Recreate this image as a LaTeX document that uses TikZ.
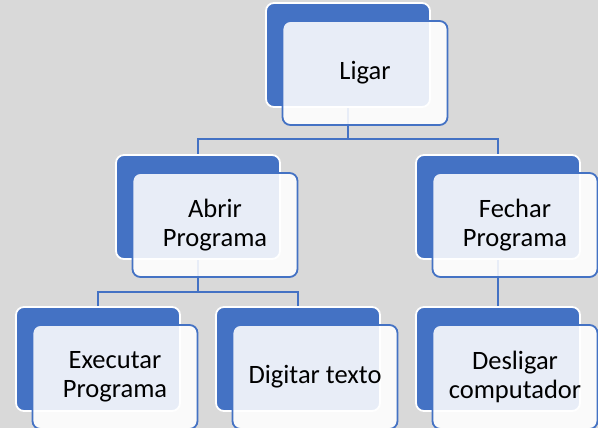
\documentclass[tikz,border=0pt]{standalone}
\usepackage{fontspec}
\setmainfont{Carlito}
\definecolor{acc}{HTML}{4472C4}
\definecolor{bgc}{HTML}{D9D9D9}
\pgfdeclarelayer{backdrop}
\pgfdeclarelayer{links}
\pgfsetlayers{backdrop,links,main}
\begin{document}
\begin{tikzpicture}[x=1pt,y=1pt,
 backbox/.style={draw=white, line width=1.8pt, fill=acc, rounded corners=8pt, minimum width=164pt, minimum height=104pt, inner sep=0pt},
 frontbox/.style={draw=acc, line width=1.8pt, fill=white, fill opacity=0.88, text opacity=1, rounded corners=8pt, minimum width=165pt, minimum height=104pt, inner sep=0pt, align=center, font=\fontsize{26.5}{29.5}\selectfont},
 conn/.style={draw=acc, line width=1.8pt}]
\begin{pgfonlayer}{backdrop}
\fill[bgc] (0,0) rectangle (598,428);
\end{pgfonlayer}
\useasboundingbox (0,0) rectangle (598,428);
% back boxes
\node[backbox] (b1) at (348,373) {};
\node[backbox] (b2) at (198,221) {};
\node[backbox] (b3) at (498,221) {};
\node[backbox] (b4) at (98,69) {};
\node[backbox] (b5) at (298,69) {};
\node[backbox] (b6) at (498,69) {};
% front boxes
\node[frontbox] (f1) at (365,355) {Ligar};
\node[frontbox] (f2) at (215,203) {Abrir\\Programa};
\node[frontbox] (f3) at (515,203) {Fechar\\Programa};
\node[frontbox] (f4) at (115,51) {Executar\\Programa};
\node[frontbox] (f5) at (315,51) {Digitar texto};
\node[frontbox] (f6) at (515,51) {Desligar\\computador};
% connectors
\coordinate (j1) at (348,289);
\coordinate (j2) at (198,136);
\begin{pgfonlayer}{links}
\draw[conn] (b1.south) -- (j1);
\draw[conn] (j1) -| (b2.north);
\draw[conn] (j1) -| (b3.north);
\draw[conn] (b2.south) -- (j2);
\draw[conn] (j2) -| (b4.north);
\draw[conn] (j2) -| (b5.north);
\draw[conn] (b3.south) -- (b6.north);
\end{pgfonlayer}
\end{tikzpicture}
\end{document}
